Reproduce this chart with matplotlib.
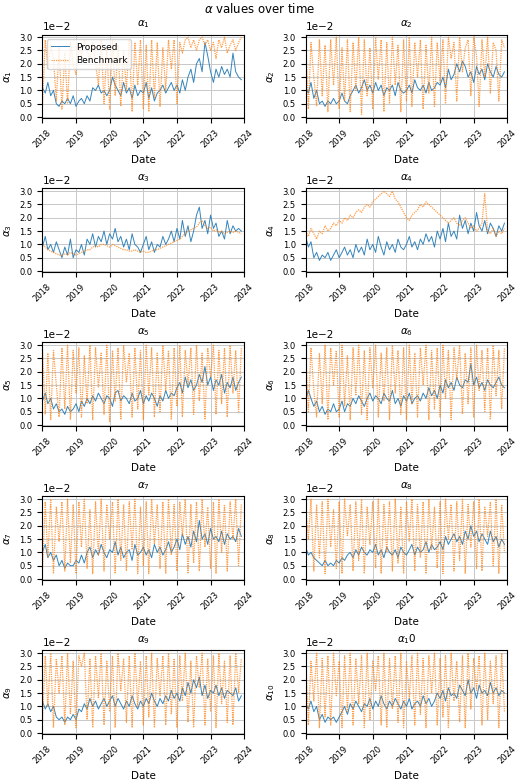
import numpy as np
import pandas as pd
import matplotlib
matplotlib.use("Agg")
import matplotlib.pyplot as plt

# values in units of 1e-2, one per month Jan 2018 .. Dec 2023
prop = {
 1: [1.1,0.9,1.3,0.8,1.0,0.5,0.4,0.6,0.5,0.7,0.5,0.8,0.4,0.6,0.7,0.5,0.8,0.6,1.1,1.0,1.2,0.9,1.0,0.8,
     1.0,1.5,1.2,1.0,0.8,1.3,0.9,1.1,0.7,1.2,0.8,1.0,0.9,1.3,0.7,1.1,0.6,0.9,1.0,1.2,0.9,1.1,1.3,1.0,
     1.2,0.9,1.4,1.0,1.5,1.8,1.3,2.0,2.2,1.7,2.8,2.3,1.7,1.3,1.8,1.5,1.9,1.6,1.8,1.5,2.4,1.7,1.5,1.4],
 2: [1.1,0.9,1.3,0.7,1.0,0.5,0.6,0.4,0.6,0.5,0.7,0.5,0.6,0.9,0.6,0.5,0.8,1.0,1.2,0.9,1.1,1.4,1.0,1.2,
     0.9,1.3,1.0,1.2,0.8,1.1,1.0,1.2,0.8,1.3,1.0,0.9,1.0,1.2,0.9,1.4,1.1,1.0,1.2,0.9,1.3,1.0,1.1,1.3,
     1.2,1.5,1.1,1.8,1.4,1.6,2.0,1.7,2.1,1.9,1.5,1.7,1.3,1.9,1.6,1.8,1.4,2.0,1.7,1.5,1.9,1.6,1.5,1.7],
 3: [0.9,1.3,0.8,1.0,0.7,1.1,0.8,0.5,0.9,0.6,1.2,0.5,0.8,0.7,1.0,0.6,1.2,1.0,1.4,0.9,1.3,1.1,1.5,1.0,
     1.4,1.2,1.6,1.1,1.3,0.9,1.2,0.8,1.4,1.0,0.9,0.7,1.0,1.3,0.8,1.1,0.7,1.0,0.9,1.3,1.0,1.2,1.5,1.1,
     1.6,1.2,1.9,1.3,1.7,1.1,1.5,2.1,2.4,1.6,1.9,1.4,2.1,1.6,1.8,1.3,1.5,1.2,1.9,1.4,1.7,1.5,1.6,1.5],
 4: [1.3,0.9,1.1,0.5,0.7,0.4,0.6,0.5,0.7,0.4,0.6,0.8,0.5,0.7,0.9,0.6,0.8,0.5,1.0,0.7,0.9,0.6,1.2,0.8,
     1.0,0.7,1.3,0.9,0.6,1.1,0.8,1.0,0.7,1.2,0.9,0.8,1.0,1.3,0.9,1.1,0.8,1.2,1.0,1.4,1.1,1.3,0.9,1.5,
     1.2,1.6,1.1,1.8,1.3,1.5,1.2,2.1,1.6,1.9,1.4,1.8,1.5,2.2,1.7,1.5,1.9,1.4,1.8,1.6,1.3,1.7,1.5,1.8],
 5: [0.9,1.2,0.8,1.0,0.6,0.8,0.5,0.6,0.4,0.7,0.5,0.6,0.8,0.5,0.9,0.7,1.0,0.8,1.1,0.9,1.2,1.0,0.8,1.1,
     1.0,0.7,1.2,1.3,0.9,1.1,1.0,0.8,1.2,0.9,1.0,1.3,0.8,1.1,0.9,1.2,1.0,0.7,1.1,0.9,1.3,1.0,1.2,1.1,
     1.4,1.6,1.2,1.8,1.4,1.7,1.3,1.5,1.9,1.6,2.2,1.5,1.8,1.3,1.7,1.5,1.9,1.2,1.6,1.4,1.8,1.3,1.6,1.8],
 6: [0.9,1.3,1.0,0.7,0.9,0.5,0.7,0.4,0.6,0.5,0.8,0.5,0.6,0.9,0.5,0.8,0.7,1.0,0.8,1.1,0.9,0.7,1.0,1.2,
     0.9,1.1,1.0,0.8,1.2,1.0,0.9,1.3,0.8,1.0,0.7,1.1,0.9,1.2,0.8,1.0,1.1,0.9,1.2,1.0,1.4,1.1,1.3,1.0,
     1.5,1.2,1.7,1.4,1.6,1.3,1.8,1.5,1.4,1.7,1.6,2.3,1.5,1.8,1.4,1.6,1.3,1.7,1.5,1.4,1.6,1.8,1.5,1.4],
 7: [1.0,1.3,0.8,1.0,0.7,0.9,0.5,0.7,0.4,0.6,0.5,0.5,0.7,0.6,0.9,0.6,1.0,1.2,0.8,1.1,0.9,1.3,1.0,0.8,
     1.1,1.0,1.4,0.9,1.2,0.8,1.0,1.1,0.7,1.3,0.9,1.0,1.2,0.9,1.1,0.8,1.3,1.0,1.2,0.9,1.1,1.4,1.0,1.2,
     1.5,1.1,1.7,1.3,1.6,1.2,1.8,1.4,2.2,1.5,1.7,1.3,1.9,1.5,1.6,1.4,1.8,1.3,1.7,1.5,1.6,1.4,1.9,1.6],
 8: [1.2,0.9,1.0,0.8,0.7,0.6,0.5,0.7,0.5,0.6,0.5,0.7,0.6,0.8,0.7,0.9,1.0,0.8,1.1,0.9,1.2,1.0,0.9,1.1,
     1.0,1.3,0.9,1.1,0.8,1.2,1.0,0.9,1.1,0.8,1.2,1.0,0.9,1.1,1.3,0.9,1.2,1.0,1.1,1.4,1.0,1.3,1.1,1.2,
     1.4,1.1,1.6,1.3,1.5,1.7,1.4,1.6,1.3,1.8,1.5,2.0,1.6,1.8,1.4,1.7,1.5,1.3,1.8,1.4,1.6,1.2,1.5,1.3],
 9: [1.2,0.9,1.1,0.8,1.0,0.6,0.5,0.6,0.4,0.6,0.5,0.7,0.5,0.9,0.8,1.1,0.9,1.3,1.0,1.2,0.9,1.1,1.3,1.0,
     1.2,1.4,1.0,1.3,1.1,0.9,1.2,1.0,1.4,1.1,0.9,1.2,1.0,1.3,1.1,1.5,1.2,1.0,1.3,1.1,1.4,1.2,1.6,1.3,
     1.5,1.2,1.7,1.4,1.9,1.5,2.0,1.7,2.1,1.4,1.8,1.3,1.6,1.5,1.8,1.4,1.7,1.3,1.6,1.5,1.4,1.7,1.2,1.4],
 10: [1.1,0.9,1.2,0.8,1.0,0.5,0.7,0.4,0.6,0.5,0.6,0.4,0.6,0.8,1.0,0.7,1.1,0.9,1.2,1.0,0.8,1.1,1.0,1.3,
     0.9,1.2,1.0,1.4,1.1,0.9,1.2,1.0,1.3,1.1,0.9,1.2,1.0,1.3,0.9,1.1,1.2,1.0,1.4,1.1,1.3,1.0,1.2,1.5,
     1.3,1.6,1.2,1.7,1.4,1.5,1.3,1.8,1.6,1.4,2.0,1.5,1.7,1.3,1.8,1.5,1.6,1.4,1.9,1.5,1.7,1.4,1.6,1.5],
}

bench = {
 1: [0.4,2.9,1.8,2.7,2.2,0.6,2.6,0.3,2.4,0.5,2.8,2.0,1.6,2.7,2.3,2.9,2.5,2.2,2.8,2.0,1.2,2.9,0.5,2.6,
     0.3,2.9,0.8,2.7,0.4,2.5,1.0,2.9,0.2,2.8,1.2,2.9,0.3,2.7,0.2,2.9,0.7,2.8,0.4,2.6,1.0,2.9,1.8,2.9,
     0.5,2.8,2.4,2.9,3.0,2.6,2.9,2.5,2.9,3.0,2.7,2.9,2.5,2.8,2.2,2.9,2.6,3.0,2.4,2.7,2.9,2.5,2.8,3.0],
 2: [2.9,0.3,2.8,1.5,0.4,2.9,0.8,2.7,0.2,2.9,1.2,3.0,0.3,2.6,0.6,2.9,0.2,2.8,1.0,3.0,0.1,2.9,0.8,2.6,
     0.3,3.0,1.4,2.9,0.2,2.8,0.5,3.0,1.2,2.7,0.2,2.9,0.6,3.0,0.4,2.8,1.5,2.9,0.3,2.7,0.9,3.0,0.4,2.8,
     1.3,2.9,0.5,3.0,2.2,2.8,0.6,3.0,1.7,2.6,2.9,0.8,3.0,2.3,0.4,2.9,1.5,3.0,0.9,2.8,2.5,0.6,2.9,2.6],
 3: [1.0,0.9,0.8,0.75,0.7,0.65,0.6,0.6,0.65,0.6,0.7,0.65,0.6,0.65,0.7,0.75,0.8,0.8,0.9,0.95,0.9,1.0,1.0,0.95,
     0.9,1.0,0.95,0.9,0.85,0.8,0.8,0.75,0.75,0.8,0.75,0.7,0.75,0.7,0.7,0.75,0.8,0.8,0.85,0.9,0.95,1.0,1.05,1.1,
     1.15,1.2,1.3,1.4,1.5,1.55,1.6,1.65,1.8,1.9,1.7,1.6,1.65,1.5,1.55,1.45,1.5,1.4,1.45,1.5,1.45,1.5,1.45,1.4],
 4: [1.5,1.3,1.6,1.4,1.2,1.5,1.4,1.7,1.5,1.6,1.8,1.7,1.9,1.8,2.0,1.9,2.1,2.0,2.2,2.3,2.2,2.4,2.5,2.4,
     2.6,2.7,2.8,2.9,3.0,2.9,2.8,3.0,2.7,2.6,2.4,2.2,2.0,1.9,2.1,2.2,2.3,2.5,2.4,2.6,2.5,2.4,2.3,2.2,
     2.1,2.0,1.9,1.8,1.9,2.0,1.8,1.7,1.9,2.0,1.8,1.6,1.7,1.5,1.6,1.8,2.9,1.5,1.4,1.6,1.3,1.5,1.4,1.6],
 5: [2.9,0.4,2.7,0.2,2.8,1.5,0.3,2.9,0.6,3.0,0.2,2.8,1.2,2.9,0.3,2.6,0.8,3.0,0.2,2.9,1.4,2.7,0.4,3.0,
     0.1,2.8,0.9,2.9,0.2,3.0,1.6,2.7,0.3,2.9,0.6,2.8,0.2,3.0,1.1,2.9,0.3,2.7,0.5,3.0,1.3,2.8,0.2,2.9,
     0.7,3.0,0.3,2.8,1.5,2.9,0.4,3.0,0.9,2.7,0.2,2.9,1.8,3.0,0.4,2.8,0.8,2.9,0.3,3.0,1.2,2.8,0.5,2.9],
 6: [2.8,0.5,2.9,1.3,0.3,2.7,0.8,3.0,0.2,2.9,1.5,2.8,0.3,3.0,0.7,2.6,0.2,2.9,1.1,3.0,0.4,2.8,0.2,2.9,
     1.4,3.0,0.3,2.7,0.9,2.9,0.2,3.0,1.2,2.8,0.4,2.9,0.2,3.0,0.8,2.7,0.3,2.9,1.5,3.0,0.2,2.8,0.6,2.9,
     0.3,3.0,1.0,2.8,0.2,2.9,1.7,3.0,0.4,2.7,0.8,2.9,0.3,3.0,1.3,2.8,0.5,2.9,0.2,3.0,1.1,2.8,0.6,2.9],
 7: [0.3,2.9,0.8,3.0,0.2,2.7,1.4,2.9,0.3,3.0,0.6,2.8,0.2,2.9,1.2,3.0,0.4,2.6,0.2,2.9,0.9,3.0,0.3,2.8,
     1.5,2.9,0.2,3.0,0.7,2.8,0.3,2.9,1.1,3.0,0.2,2.7,0.5,2.9,0.2,3.0,1.3,2.8,0.4,2.9,0.2,3.0,0.9,2.8,
     0.3,2.9,1.6,3.0,0.2,2.8,0.6,2.9,0.3,3.0,1.2,2.7,0.4,2.9,0.2,3.0,1.0,2.8,0.3,2.9,1.5,3.0,0.5,2.8],
 8: [2.7,1.5,3.0,0.3,2.8,0.8,2.9,0.2,3.0,1.2,2.6,0.4,2.9,0.2,3.0,1.6,2.8,0.3,2.9,0.7,3.0,0.2,2.7,1.3,
     2.9,0.4,3.0,0.2,2.8,1.0,2.9,0.3,3.0,0.6,2.7,0.2,2.9,1.4,3.0,0.3,2.8,0.8,2.9,0.2,3.0,1.1,2.7,0.4,
     2.9,0.2,3.0,1.5,2.8,0.3,2.9,0.7,3.0,0.2,2.8,1.2,2.9,0.4,3.0,0.3,2.7,1.6,2.9,0.5,3.0,0.2,2.8,1.0],
 9: [0.4,2.9,1.0,3.0,0.2,2.8,1.5,2.9,0.3,3.0,0.7,2.7,0.2,2.9,2.5,3.0,0.5,2.8,0.2,2.9,1.3,3.0,0.3,2.7,
     0.8,2.9,0.2,3.0,1.6,2.8,0.4,2.9,0.2,3.0,1.0,2.7,0.3,2.9,0.6,3.0,0.2,2.8,1.4,2.9,0.3,3.0,0.7,2.8,
     0.2,2.9,1.2,3.0,0.4,2.7,0.2,2.9,1.7,3.0,0.3,2.8,0.8,2.9,0.2,3.0,1.1,2.7,0.4,2.9,0.3,3.0,1.5,2.8],
 10: [2.9,0.3,2.7,1.2,3.0,0.2,2.8,0.6,2.9,0.3,3.0,1.4,2.7,0.2,2.9,0.8,3.0,0.3,2.8,1.1,2.9,0.2,3.0,0.5,
     2.7,1.6,2.9,0.3,3.0,0.2,2.8,0.9,2.9,0.4,3.0,0.2,2.7,1.3,2.9,0.3,3.0,0.7,2.8,0.2,2.9,1.5,3.0,0.3,
     2.8,0.6,2.9,0.2,3.0,1.2,2.7,0.4,2.9,0.2,3.0,0.9,2.8,1.6,2.9,0.3,3.0,0.5,2.7,1.1,2.9,0.2,3.0,0.8],
}

dates = pd.date_range("2018-01-01", "2023-12-01", freq="MS")

plt.rcParams['font.size'] = 7.5
fig, axes = plt.subplots(5, 2, figsize=(5.2, 7.83), dpi=100)
fig.suptitle(r"$\alpha$ values over time", fontsize=8.5, y=0.998)

for i, ax in enumerate(axes.flat, start=1):
    ax.plot(dates, np.array(prop[i]) * 0.01, color="#1f77b4", lw=0.7, alpha=0.9, label="Proposed")
    ax.plot(dates, np.array(bench[i]) * 0.01, color="#ff7f0e", lw=0.9, ls=(0, (1, 0.8)),
            alpha=0.75, label="Benchmark")
    if i == 10:
        ax.set_title(r"$\alpha_1$0", fontsize=7.5)
        ax.set_ylabel(r"$\alpha_{10}$")
    else:
        ax.set_title(r"$\alpha_{%d}$" % i, fontsize=7.5)
        ax.set_ylabel(r"$\alpha_{%d}$" % i)
    ax.set_xlabel("Date")
    ax.set_xlim(pd.Timestamp("2018-01-01"), pd.Timestamp("2024-01-01"))
    ax.set_xticks([pd.Timestamp(f"{y}-01-01") for y in range(2018, 2025)])
    ax.set_xticklabels([str(y) for y in range(2018, 2025)], rotation=45, fontsize=6)
    ax.set_ylim(-0.0005, 0.031)
    ax.set_yticks(np.arange(0, 0.031, 0.005))
    ax.ticklabel_format(axis="y", style="sci", scilimits=(0, 0))
    ax.tick_params(axis="y", labelsize=6)
    ax.grid(True, lw=0.7, color="#c8c8c8")
    if i == 1:
        ax.legend(loc="upper left", fontsize=6.5)

fig.tight_layout(pad=0.2, h_pad=0.5, w_pad=1.0)
fig.savefig("out.png")
